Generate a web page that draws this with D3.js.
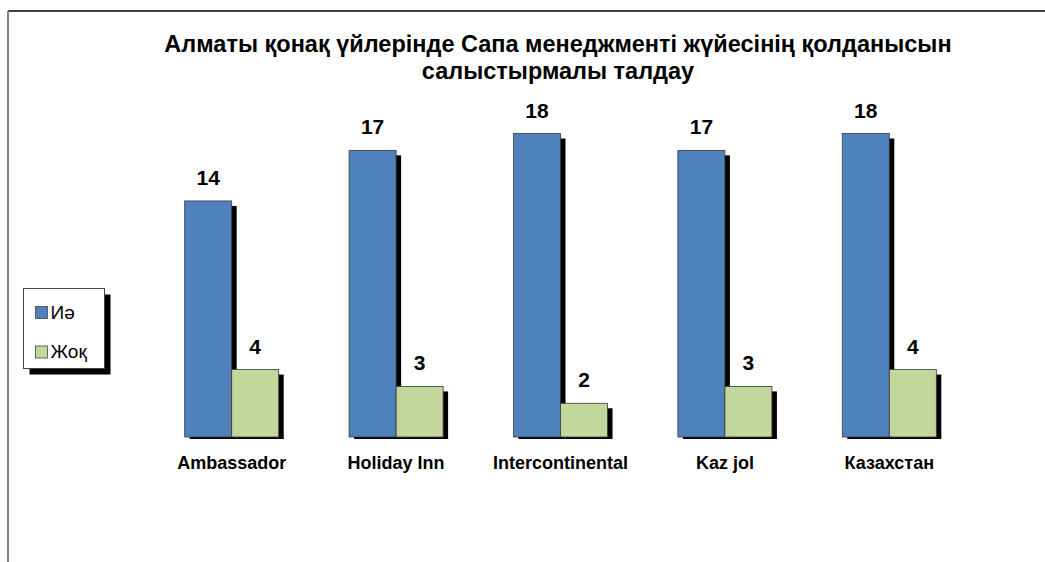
<!DOCTYPE html>
<meta charset="utf-8">
<script src="https://d3js.org/d3.v7.min.js"></script>
<style>
  body { margin: 0; background: #fff; }
  text { font-family: Arial, "Liberation Sans", sans-serif; fill: #000; }
</style>
<div id="divsvg"></div>
<script>
// chart data
var hotels = ["Ambassador", "Holiday Inn", "Intercontinental", "Kaz jol", "Казахстан"];
var yes = [14, 17, 18, 17, 18];
var no = [4, 3, 2, 3, 4];
var seriesNames = ["Иә", "Жоқ"];
var titleLines = ["Алматы қонақ үйлерінде Сапа менеджменті жүйесінің қолданысын", "салыстырмалы талдау"];

var colors = ["#4F81BD", "#C3D69B"];
var W = 1045, H = 562;

var svg = d3.select("#divsvg")
  .append("svg")
    .attr("width", W)
    .attr("height", H);

// outer frame (only top and left edges visible)
svg.append("line")
  .attr("x1", 8).attr("y1", 11).attr("x2", W).attr("y2", 11)
  .attr("stroke", "#000").attr("stroke-width", 1.5);
svg.append("line")
  .attr("x1", 8).attr("y1", 11).attr("x2", 8).attr("y2", H)
  .attr("stroke", "#808080").attr("stroke-width", 2);

// title
svg.append("text")
  .attr("x", 558).attr("y", 52)
  .attr("text-anchor", "middle")
  .style("font-size", "23.5px").style("font-weight", "bold")
  .selectAll("tspan")
  .data(titleLines)
  .enter().append("tspan")
    .attr("x", 558)
    .attr("dy", function(d, i) { return i ? 27 : 0; })
    .text(function(d) { return d; });

var x = d3.scaleBand()
  .domain(hotels)
  .range([149.5, 971.5])
  .paddingInner(0.428)
  .paddingOuter(0.214);

var x1 = d3.scaleBand()
  .domain([0, 1])
  .range([0, x.bandwidth()]);

var y = d3.scaleLinear()
  .domain([0, 18])
  .range([437, 133.5]);

var rows = hotels.map(function(h, i) { return {hotel: h, vals: [yes[i], no[i]]}; });

var groups = svg.selectAll("g.grp")
  .data(rows)
  .enter().append("g")
    .attr("class", "grp")
    .attr("transform", function(d) { return "translate(" + x(d.hotel) + ",0)"; });

[0, 1].forEach(function(s) {
  // shadow
  groups.append("rect")
    .attr("x", x1(s) + 5)
    .attr("y", function(d) { return y(d.vals[s]) + 5; })
    .attr("width", x1.bandwidth())
    .attr("height", function(d) { return y(0) - y(d.vals[s]) - 3; })
    .attr("fill", "#000");
  groups.append("rect")
    .attr("x", x1(s))
    .attr("y", function(d) { return y(d.vals[s]); })
    .attr("width", x1.bandwidth())
    .attr("height", function(d) { return y(0) - y(d.vals[s]); })
    .attr("fill", colors[s])
    .attr("stroke", "#3a3a3a").attr("stroke-width", 0.8);
  groups.append("text")
    .attr("x", x1(s) + x1.bandwidth() / 2)
    .attr("y", function(d) { return y(d.vals[s]) - 16; })
    .attr("text-anchor", "middle")
    .style("font-size", "21px").style("font-weight", "bold")
    .text(function(d) { return d.vals[s]; });
});

// category axis labels
var xAxis = svg.append("g")
  .attr("transform", "translate(0," + y(0) + ")")
  .call(d3.axisBottom(x).tickSize(0).tickPadding(0));
xAxis.select(".domain").remove();
xAxis.selectAll("text")
  .attr("dy", null)
  .attr("y", 32)
  .style("font-family", "Arial, 'Liberation Sans', sans-serif")
  .style("font-size", "18px").style("font-weight", "bold")
  .attr("fill", "#000");

// legend
var lg = svg.append("g").attr("transform", "translate(23.5,288.5)");
lg.append("rect").attr("x", 6).attr("y", 6).attr("width", 81).attr("height", 80).attr("fill", "#000");
lg.append("rect").attr("width", 81).attr("height", 80).attr("fill", "#fff")
  .attr("stroke", "#444").attr("stroke-width", 1);
var items = lg.selectAll("g.item")
  .data(seriesNames)
  .enter().append("g")
    .attr("class", "item")
    .attr("transform", function(d, i) { return "translate(12," + (18 + i * 39.5) + ")"; });
items.append("rect")
  .attr("width", 12).attr("height", 12)
  .attr("fill", function(d, i) { return colors[i]; })
  .attr("stroke", "#444").attr("stroke-width", 0.8);
items.append("text")
  .attr("x", 15).attr("y", 12)
  .style("font-size", "19px")
  .text(function(d) { return d; });
</script>
